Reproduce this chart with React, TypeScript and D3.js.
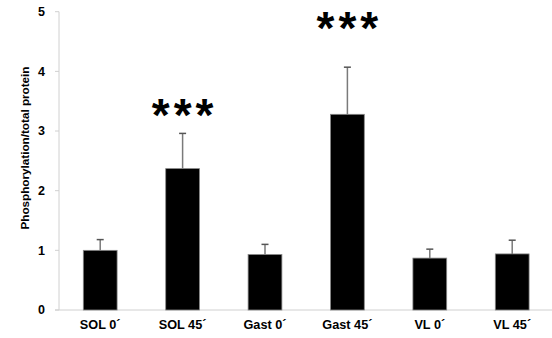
import React from "react";
import * as d3 from "d3";

const categories = ["SOL 0´", "SOL 45´", "Gast 0´", "Gast 45´", "VL 0´", "VL 45´"];
const values = [1.0, 2.37, 0.93, 3.28, 0.87, 0.94];
const errors = [0.18, 0.59, 0.17, 0.79, 0.15, 0.23];
const significance = ["", "***", "", "***", "", ""];
const significanceLevel = [0, 3.18, 0, 4.64, 0, 0];
const yTicks = [0, 1, 2, 3, 4, 5];
const yLabel = "Phosphorylation/total protein";

const W = 552;
const H = 338;
const left = 59;
const right = 553.4;
const top = 11.7;
const bottom = 310;

export default function App() {
  const x = d3.scaleBand<string>().domain(categories).range([left, right]).padding(0);
  const y = d3.scaleLinear().domain([0, 5]).range([bottom, top]);
  const bw = x.bandwidth() * 0.41;
  const font = "Liberation Sans, Arial, sans-serif";
  const starSize = 46;
  const starSpacing = 4;
  return (
    <svg width={W} height={H} style={{ position: "absolute", left: 0, top: 0 }}>
      <rect width={W} height={H} fill="#fff" />
      <line x1={left} x2={left} y1={top} y2={bottom} stroke="#d0d0d0" strokeWidth={1} />
      {yTicks.map((t) => (
        <g key={t}>
          <line x1={left - 4} x2={left} y1={y(t)} y2={y(t)} stroke="#d0d0d0" strokeWidth={1} />
          <text x={45} y={y(t)} dy="0.35em" textAnchor="end" fontFamily={font} fontWeight="bold" fontSize={12.5} fill="#000">
            {t}
          </text>
        </g>
      ))}
      <line x1={left - 4} x2={W} y1={bottom} y2={bottom} stroke="#d0d0d0" strokeWidth={1} />
      {categories.map((c, i) => {
        const cx = (x(c) as number) + x.bandwidth() / 2;
        const v = values[i];
        const e = errors[i];
        return (
          <g key={c}>
            <line x1={cx} x2={cx} y1={y(v)} y2={y(v + e)} stroke="#7a7a7a" strokeWidth={1.5} />
            <line x1={cx - 3.5} x2={cx + 3.5} y1={y(v + e)} y2={y(v + e)} stroke="#555" strokeWidth={1.5} />
            <rect x={cx - bw / 2} y={y(v)} width={bw} height={bottom - y(v)} fill="#000" stroke="#888" strokeWidth={0.8} />
            <text x={cx} y={329} textAnchor="middle" fontFamily={font} fontWeight="bold" fontSize={12.7} fill="#000">
              {c}
            </text>
            {significance[i] && (
              <text
                x={cx + starSpacing / 2}
                y={y(significanceLevel[i]) + starSize * 0.24}
                textAnchor="middle"
                fontFamily={font}
                fontWeight="bold"
                fontSize={starSize}
                letterSpacing={starSpacing}
                fill="#000"
              >
                {significance[i]}
              </text>
            )}
          </g>
        );
      })}
      <text
        transform={`translate(25,148) rotate(-90)`}
        textAnchor="middle"
        dy="0.35em"
        fontFamily={font}
        fontWeight="bold"
        fontSize={11.7}
        fill="#000"
      >
        {yLabel}
      </text>
    </svg>
  );
}
